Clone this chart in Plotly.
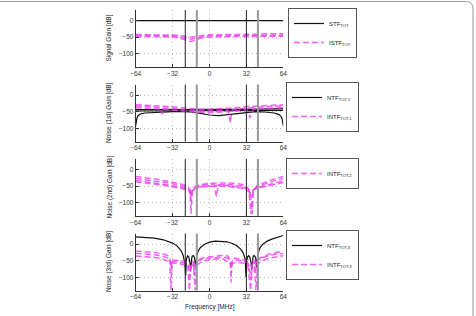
import plotly.graph_objects as go

# ---------------- data ----------------
freq_ticks = [-64, -32, 0, 32, 64]
gain_ticks = [0, -50, -100]
marker_black = [-21, 32]
marker_gray = [-11, 42]

# Panel 1: Signal gain
stf_x = [-64, 64]
stf_y = [0, 0]
istf_x = [-64, -56, -48, -40, -32, -28, -24, -20, -16, -12, -8, -4, 0, 8, 16, 24, 32, 40, 48, 56, 64]
istf_a = [-42, -42, -42, -42, -43, -44, -46, -48, -50, -48, -45, -44, -43, -43, -42, -42, -41, -41, -40, -40, -40]
istf_b = [-45, -45, -45, -45, -46, -48, -50, -53, -56, -53, -49, -47, -46, -46, -45, -45, -45, -44, -44, -44, -44]
istf_c = [-48, -48, -48, -48, -49, -51, -55, -60, -63, -59, -53, -50, -49, -49, -48, -48, -48, -47, -47, -47, -47]

# Panel 2: Noise (1st)
ntf1a_x = [-64, -63.5, -63, -62, -60, -56, -48, -40, -32, -24, -16, -8, 0, 8, 16, 24, 32, 40, 48, 56, 60, 62, 63, 63.5, 64]
ntf1a_y = [-92, -78, -70, -62, -57, -54, -52, -51, -50, -50, -51, -55, -60, -62, -59, -55, -51, -50, -51, -54, -58, -64, -72, -80, -93]
ntf1b_x = [-64, -32, 0, 32, 64]
ntf1b_y = [-48, -47, -48, -47, -46]
ntf1c_x = [-64, -32, 0, 32, 64]
ntf1c_y = [-44, -44, -45, -43, -41]
intf1a_x = [-64, -56, -48, -40, -32, -24, -16, -8, 0, 8, 16, 24, 32, 40, 48, 56, 64]
intf1a_y = [-29, -30, -31, -33, -35, -38, -41, -43, -43, -42, -40, -38, -35, -33, -31, -30, -29]
intf1b_x = [-64, -56, -48, -43, -42, -41, -40, -32, -24, -16, -8, 0, 8, 16, 17, 18, 19, 20, 24, 32, 40, 48, 56, 64]
intf1b_y = [-33, -34, -36, -38, -50, -57, -40, -40, -43, -46, -48, -48, -47, -45, -62, -84, -60, -44, -42, -39, -36, -35, -34, -33]
intf1c_x = [-64, -56, -48, -40, -32, -24, -16, -8, 0, 8, 16, 24, 32, 34, 35, 36, 37, 38, 40, 48, 56, 64]
intf1c_y = [-38, -39, -41, -43, -45, -48, -50, -52, -53, -52, -50, -47, -44, -52, -69, -60, -50, -43, -42, -40, -39, -38]

# Panel 3: Noise (2nd)
intf2a_x = [-64, -56, -48, -40, -32, -24, -20, -17, -16, -15, -12, -8, 0, 8, 16, 24, 30, 34, 36, 37, 38, 41, 48, 56, 64]
intf2a_y = [-21, -24, -28, -33, -38, -44, -48, -60, -134, -62, -50, -46, -41, -40, -40, -42, -46, -58, -90, -134, -70, -48, -38, -28, -21]
intf2b_x = [-64, -56, -48, -40, -32, -24, -20, -17, -16, -15, -12, -8, 0, 4, 5, 6, 7, 8, 16, 24, 30, 34, 36, 37, 38, 41, 48, 56, 64]
intf2b_y = [-27, -30, -33, -38, -43, -48, -52, -62, -95, -60, -52, -48, -44, -45, -60, -81, -58, -46, -45, -47, -50, -60, -134, -90, -62, -52, -43, -34, -27]
intf2c_x = [-64, -56, -48, -40, -32, -24, -20, -17, -16, -15, -12, -8, 0, 8, 16, 24, 30, 34, 36, 37, 38, 41, 48, 56, 64]
intf2c_y = [-33, -36, -40, -44, -49, -53, -57, -66, -80, -64, -54, -51, -48, -47, -48, -51, -55, -64, -80, -75, -60, -55, -48, -40, -34]
intf2d_x = [-64, -56, -48, -40, -32, -24, -20, -17, -16, -15, -12, -8, 0, 8, 16, 24, 30, 34, 36, 37, 38, 41, 48, 56, 64]
intf2d_y = [-37, -40, -43, -47, -52, -57, -60, -68, -75, -66, -57, -53, -51, -50, -51, -54, -58, -66, -72, -68, -62, -57, -52, -45, -39]

# Panel 4: Noise (3rd)
ntf3_x = [-64, -56, -48, -40, -36, -32, -28, -25, -23, -22, -21.3, -20.7, -20, -19, -18, -17, -16.2, -15.5, -15, -14,
          -13, -12.2, -11.5, -11, -10, -8, -5, 0, 5, 10, 15, 20, 24, 27, 29, 31, 31.7, 32.3, 33, 34,
          35, 36, 36.8, 37.5, 38, 39, 40, 40.8, 41.5, 42, 43, 44, 46, 50, 54, 58, 64]
ntf3_y = [22, 21, 18, 13, 9, 3, -6, -18, -32, -45, -60, -95, -45, -35, -38, -55, -75, -45, -36, -35,
          -40, -70, -45, -36, -22, -11, -2, 6, 9, 9, 7, 2, -6, -15, -25, -45, -100, -50, -38, -35,
          -40, -55, -75, -45, -36, -35, -40, -70, -45, -30, -18, -10, -1, 9, 15, 19, 26]
intf3a_x = [-64, -56, -48, -40, -36, -34.5, -33.5, -32.5, -30, -26, -22, -19, -17.5, -16, -14, -12.5, -11, -8, -4, 0,
            6, 12, 16, 18, 18.7, 19.5, 22, 26, 30, 33, 35.7, 37, 38.5, 40.3, 42, 46, 52, 58, 64]
intf3a_y = [-21, -22, -25, -30, -35, -45, -140, -48, -48, -50, -52, -56, -140, -55, -54, -140, -50, -44, -40, -38,
            -35, -34, -36, -50, -116, -48, -42, -45, -48, -55, -140, -52, -50, -140, -46, -38, -30, -25, -21]
intf3b_x = [-64, -56, -48, -40, -36, -34, -33, -32, -28, -24, -20, -18, -17, -16, -14, -13, -12, -10, -6, 0,
            6, 12, 16, 18, 19, 20, 24, 28, 32, 34, 36, 37, 39, 40, 41, 44, 50, 56, 64]
intf3b_y = [-28, -29, -32, -37, -42, -50, -80, -52, -54, -56, -58, -65, -100, -62, -60, -95, -60, -50, -45, -42,
            -40, -40, -42, -55, -75, -52, -48, -50, -54, -60, -110, -58, -56, -90, -52, -44, -36, -31, -28]
intf3c_x = [-64, -56, -48, -40, -34, -30, -26, -22, -18, -15, -12, -8, -4, 0, 6, 12, 18, 24, 30, 34, 38, 42, 46, 52, 58, 64]
intf3c_y = [-36, -37, -40, -46, -55, -58, -60, -62, -68, -64, -66, -56, -50, -47, -45, -45, -60, -55, -58, -65, -68, -58, -50, -42, -38, -35]

y_titles = ["Signal Gain [dB]", "Noise (1st) Gain [dB]", "Noise (2nd) Gain [dB]", "Noise (3rd) Gain [dB]"]
x_title = "Frequency [MHz]"

# ---------------- layout geometry ----------------
W, H = 476, 316
x_dom = [135.7 / W, 283.3 / W]
panel_px = [(10, 67), (84.5, 141.5), (159, 216), (233.5, 290.5)]
y_doms = [[1 - b / H, 1 - t / H] for t, b in panel_px]
legend_px = [(288, 8), (286, 82), (286, 158), (286, 230)]

BLACK = "#111111"
MAG = "rgba(240,60,240,0.8)"
DASH = "6px,3px"
FONT = "Liberation Sans, Arial, sans-serif"
FS = 6.5

fig = go.Figure()

def add(panel, x, y, name, color, dash, width, show, group):
    sfx = "" if panel == 1 else str(panel)
    fig.add_trace(go.Scatter(
        x=x, y=y, mode="lines", name=name, legendgroup=group + str(panel),
        showlegend=show, legend="legend" + sfx,
        line=dict(color=color, dash=dash, width=width),
        xaxis="x" + sfx, yaxis="y" + sfx, hoverinfo="skip"))

# panel 1
add(1, stf_x, stf_y, "STF<sub>TOT</sub>", BLACK, "solid", 1.2, True, "s")
for i, yy in enumerate([istf_a, istf_b, istf_c]):
    add(1, istf_x, yy, "ISTF<sub>TOT</sub>", MAG, DASH, 1.5, i == 0, "i")
# panel 2
for i, (xx, yy) in enumerate([(ntf1a_x, ntf1a_y), (ntf1b_x, ntf1b_y), (ntf1c_x, ntf1c_y)]):
    add(2, xx, yy, "NTF<sub>TOT,1</sub>", BLACK, "solid", 1.2, i == 0, "n")
for i, (xx, yy) in enumerate([(intf1a_x, intf1a_y), (intf1b_x, intf1b_y), (intf1c_x, intf1c_y)]):
    add(2, xx, yy, "INTF<sub>TOT,1</sub>", MAG, DASH, 1.5, i == 0, "i")
# panel 3
for i, (xx, yy) in enumerate([(intf2a_x, intf2a_y), (intf2b_x, intf2b_y), (intf2c_x, intf2c_y), (intf2d_x, intf2d_y)]):
    add(3, xx, yy, "INTF<sub>TOT,2</sub>", MAG, DASH, 1.5, i == 0, "i")
# panel 4
add(4, ntf3_x, ntf3_y, "NTF<sub>TOT,3</sub>", BLACK, "solid", 1.2, True, "n")
for i, (xx, yy) in enumerate([(intf3a_x, intf3a_y), (intf3b_x, intf3b_y), (intf3c_x, intf3c_y)]):
    add(4, xx, yy, "INTF<sub>TOT,3</sub>", MAG, DASH, 1.5, i == 0, "i")

axis_common = dict(showgrid=True, gridcolor="#b8b8b8", griddash="1px,3px", gridwidth=1,
                   showline=True, linecolor="#333", linewidth=1, ticks="inside", ticklen=3,
                   tickcolor="#333", zeroline=False, automargin=False,
                   tickfont=dict(size=FS, color="#333", family=FONT))

layout = dict(width=W, height=H, margin=dict(l=0, r=0, t=0, b=0),
              paper_bgcolor="white", plot_bgcolor="white", showlegend=True,
              font=dict(family=FONT, size=FS, color="#222"))
shapes = []
annotations = []
for p in range(1, 5):
    sfx = "" if p == 1 else str(p)
    layout["xaxis" + sfx] = dict(axis_common, domain=x_dom, range=[-64, 64], tickvals=freq_ticks,
                                 anchor="y" + sfx)
    layout["yaxis" + sfx] = dict(axis_common, domain=y_doms[p - 1], range=[-140, 32], tickvals=gain_ticks,
                                 anchor="x" + sfx)
    lx, ly = legend_px[p - 1]
    layout["legend" + sfx] = dict(x=lx / W, y=1 - ly / H, xanchor="left", yanchor="top",
                                  bgcolor="white", bordercolor="#555", borderwidth=1,
                                  font=dict(size=6, family=FONT, color="#222"),
                                  itemwidth=30, tracegroupgap=0)
    for xv in marker_black:
        shapes.append(dict(type="line", xref="x" + sfx, yref="y" + sfx + " domain", x0=xv, x1=xv, y0=0, y1=1,
                           line=dict(color="#222", width=1)))
    for xv in marker_gray:
        shapes.append(dict(type="line", xref="x" + sfx, yref="y" + sfx + " domain", x0=xv, x1=xv, y0=0, y1=1,
                           line=dict(color="#999", width=2)))
    t, b = panel_px[p - 1]
    annotations.append(dict(text=y_titles[p - 1], xref="paper", yref="paper", x=109 / W, y=1 - (t + b) / 2 / H,
                            textangle=-90, showarrow=False, font=dict(size=FS, family=FONT, color="#222"),
                            xanchor="center", yanchor="middle"))

annotations.append(dict(text=x_title, xref="paper", yref="paper", x=210 / W, y=1 - 306.5 / H,
                        showarrow=False, font=dict(size=FS, family=FONT, color="#222"),
                        xanchor="center", yanchor="middle"))
# outer frame (top and right edges)
shapes.append(dict(type="path", xref="paper", yref="paper",
                   path="M -0.01,0.9953 L 0.978,0.9953 Q 0.9937,0.9953 0.9937,0.972 L 0.9937,-0.1",
                   line=dict(color="#999", width=1)))
layout["shapes"] = shapes
layout["annotations"] = annotations
fig.update_layout(**layout)
fig.write_html("out.html")
